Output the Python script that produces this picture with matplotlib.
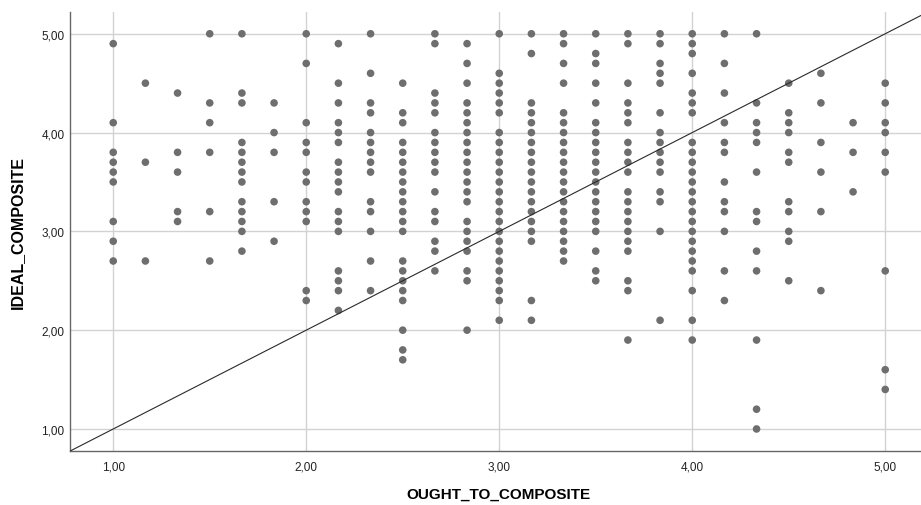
import matplotlib
matplotlib.use('Agg')
import matplotlib.pyplot as plt
import numpy as np

plt.rcParams['font.family'] = ['Liberation Sans', 'DejaVu Sans']

# OUGHT_TO_COMPOSITE levels (steps of 1/6)
ought_levels = [1.0, 7/6, 4/3, 1.5, 5/3, 11/6, 2.0, 13/6, 7/3, 2.5, 8/3, 17/6,
                3.0, 19/6, 10/3, 3.5, 11/3, 23/6, 4.0, 25/6, 13/3, 4.5, 14/3, 29/6, 5.0]

# IDEAL_COMPOSITE values seen at each level
ideal_1_00 = [4.9, 4.1, 3.8, 3.7, 3.6, 3.5, 3.1, 2.9, 2.7]
ideal_1_17 = [4.5, 3.7, 2.7]
ideal_1_33 = [4.4, 3.8, 3.6, 3.2, 3.1]
ideal_1_50 = [5.0, 4.3, 4.1, 3.8, 3.2, 2.7]
ideal_1_67 = [5.0, 4.4, 4.3, 3.9, 3.8, 3.7, 3.6, 3.5, 3.3, 3.2, 3.1, 3.0, 2.8]
ideal_1_83 = [4.3, 4.0, 3.8, 3.3, 2.9]
ideal_2_00 = [5.0, 4.7, 4.1, 3.9, 3.8, 3.6, 3.5, 3.3, 3.2, 3.1, 2.4, 2.3]
ideal_2_17 = [4.9, 4.5, 4.3, 4.1, 4.0, 3.9, 3.7, 3.6, 3.5, 3.4, 3.2, 3.1, 3.0,
              2.6, 2.5, 2.4, 2.2]
ideal_2_33 = [5.0, 4.6, 4.3, 4.2, 4.0, 3.9, 3.8, 3.7, 3.6, 3.3, 3.2, 3.0, 2.7, 2.4]
ideal_2_50 = [4.5, 4.2, 4.1, 3.9, 3.8, 3.7, 3.6, 3.5, 3.4, 3.3, 3.2, 3.1, 3.0,
              2.7, 2.6, 2.5, 2.4, 2.3, 2.0, 1.8, 1.7]
ideal_2_67 = [5.0, 4.9, 4.4, 4.3, 4.2, 4.0, 3.9, 3.8, 3.7, 3.6, 3.4, 3.2, 3.1,
              2.9, 2.8, 2.6]
ideal_2_83 = [4.9, 4.7, 4.5, 4.3, 4.2, 4.1, 4.0, 3.9, 3.8, 3.7, 3.6, 3.5, 3.4,
              3.3, 3.1, 3.0, 2.9, 2.8, 2.6, 2.5, 2.0]
ideal_3_00 = [5.0, 4.6, 4.5, 4.4, 4.3, 4.2, 4.0, 3.9, 3.8, 3.7, 3.6, 3.5, 3.4,
              3.3, 3.2, 3.1, 3.0, 2.9, 2.8, 2.7, 2.6, 2.5, 2.4, 2.3, 2.1]
ideal_3_17 = [5.0, 4.8, 4.3, 4.2, 4.1, 4.0, 3.9, 3.8, 3.7, 3.6, 3.5, 3.4, 3.3,
              3.2, 3.1, 3.0, 2.9, 2.3, 2.1]
ideal_3_33 = [5.0, 4.9, 4.7, 4.5, 4.2, 4.1, 4.0, 3.9, 3.8, 3.7, 3.6, 3.5, 3.4,
              3.3, 3.2, 3.1, 3.0, 2.9, 2.8, 2.7]
ideal_3_50 = [5.0, 4.8, 4.7, 4.5, 4.3, 4.1, 4.0, 3.9, 3.8, 3.7, 3.6, 3.5, 3.4,
              3.3, 3.2, 3.1, 3.0, 2.8, 2.6, 2.5]
ideal_3_67 = [5.0, 4.9, 4.5, 4.3, 4.2, 4.1, 3.9, 3.8, 3.7, 3.6, 3.4, 3.3, 3.2,
              3.1, 3.0, 2.9, 2.8, 2.5, 2.4, 1.9]
ideal_3_83 = [5.0, 4.9, 4.7, 4.6, 4.5, 4.2, 4.0, 3.9, 3.8, 3.7, 3.6, 3.4, 3.3,
              3.0, 2.1]
ideal_4_00 = [5.0, 4.9, 4.8, 4.6, 4.4, 4.3, 4.2, 3.9, 3.8, 3.7, 3.6, 3.5, 3.4,
              3.3, 3.2, 3.1, 3.0, 2.9, 2.8, 2.7, 2.6, 2.4, 2.1, 1.9]
ideal_4_17 = [5.0, 4.7, 4.4, 4.1, 3.9, 3.8, 3.5, 3.3, 3.2, 3.0, 2.6, 2.3]
ideal_4_33 = [5.0, 4.3, 4.1, 4.0, 3.9, 3.6, 3.2, 3.1, 2.8, 2.6, 1.9, 1.2, 1.0]
ideal_4_50 = [4.5, 4.2, 4.1, 4.0, 3.8, 3.7, 3.3, 3.2, 3.0, 2.9, 2.5]
ideal_4_67 = [4.6, 4.3, 3.9, 3.6, 3.2, 2.4]
ideal_4_83 = [4.1, 3.8, 3.4]
ideal_5_00 = [4.5, 4.3, 4.1, 4.0, 3.8, 3.6, 2.6, 1.6, 1.4]

ideal_columns = [ideal_1_00, ideal_1_17, ideal_1_33, ideal_1_50, ideal_1_67,
                 ideal_1_83, ideal_2_00, ideal_2_17, ideal_2_33, ideal_2_50,
                 ideal_2_67, ideal_2_83, ideal_3_00, ideal_3_17, ideal_3_33,
                 ideal_3_50, ideal_3_67, ideal_3_83, ideal_4_00, ideal_4_17,
                 ideal_4_33, ideal_4_50, ideal_4_67, ideal_4_83, ideal_5_00]

tick_values = [1, 2, 3, 4, 5]
tick_labels = ['1,00', '2,00', '3,00', '4,00', '5,00']

x = np.concatenate([[lv] * len(col) for lv, col in zip(ought_levels, ideal_columns)])
y = np.concatenate(ideal_columns)

fig = plt.figure(figsize=(9.21, 5.06), dpi=100)
ax = fig.add_axes([70 / 921, 1 - 452 / 506, 851 / 921, 439 / 506])

xmin, xmax = 0.776, 0.776 + 851 / 193
ymin, ymax = 0.777, 0.777 + 439 / 98.8
ax.set_xlim(xmin, xmax)
ax.set_ylim(ymin, ymax)

ax.grid(True, color='#d2d2d2', linewidth=1.0)
ax.set_axisbelow(True)

ax.scatter(x, y, s=30, color='#6e6e6e', edgecolors='none', zorder=3)

# reference line y = x
ax.plot([xmin, xmax], [xmin, xmax], color='#2a2a2a', linewidth=0.8, zorder=4)

ax.set_xticks(tick_values)
ax.set_xticklabels(tick_labels)
ax.set_yticks(tick_values)
ax.set_yticklabels(tick_labels)
ax.tick_params(axis='both', length=0, labelsize=8.5, colors='#222222')
ax.tick_params(axis='x', pad=7)
ax.tick_params(axis='y', pad=4)

for side in ['top', 'right']:
    ax.spines[side].set_visible(False)
for side in ['left', 'bottom']:
    ax.spines[side].set_color('#666666')
    ax.spines[side].set_linewidth(1.0)

ax.set_xlabel('OUGHT_TO_COMPOSITE', fontsize=11, fontweight='bold', va='top')
ax.set_ylabel('IDEAL_COMPOSITE', fontsize=11.5, fontweight='bold')
ax.xaxis.set_label_coords(0.5035, -0.082)
ax.yaxis.set_label_coords(-0.053, 0.5)

fig.savefig('out.png', dpi=100)
